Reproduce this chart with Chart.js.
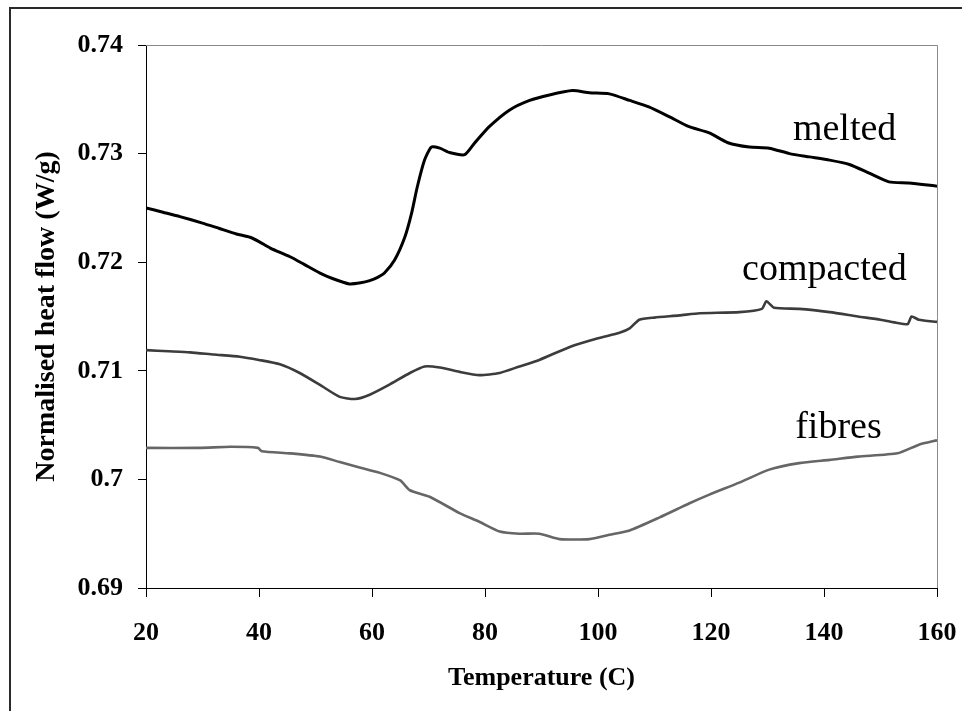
<!DOCTYPE html>
<html>
<head>
<meta charset="utf-8">
<script src="https://cdn.jsdelivr.net/npm/chart.js@4/dist/chart.umd.min.js"></script>
<style>
    html, body { margin: 0; padding: 0; background: #fff; }
    #wrap { width: 962px; height: 711px; }
</style>
</head>
<body>
<div id="wrap"><canvas id="chart" width="962" height="711"></canvas></div>
<script>
// Values
const meltedTemp = [20, 23, 26, 30, 33, 36, 38.4, 40, 42, 45.5, 48, 50.8, 53, 56, 58, 59.6, 61, 62.2, 64, 65.8,
    67, 68, 69.3, 70.5, 72, 73.7, 76.4, 78.2, 80.8, 84.3, 87.9, 91.4, 95.5, 98.5, 102, 105.6, 109, 112.6,
    116, 119.7, 123, 126.8, 130.3, 133.9, 137.4, 141, 144.5, 148, 151.5, 155, 160];
const meltedFlow = [0.7250, 0.7246, 0.7242, 0.7236, 0.7231, 0.7226, 0.7223, 0.7219, 0.7213, 0.7205, 0.7198,
    0.7190, 0.7185, 0.7180, 0.7181, 0.7183, 0.7186, 0.7190, 0.7202, 0.7223, 0.7245, 0.7269, 0.7294, 0.7306,
    0.7305, 0.7301, 0.7299, 0.7310, 0.7325, 0.7340, 0.7349, 0.7354, 0.7358, 0.7356, 0.7355, 0.7349, 0.7343,
    0.7334, 0.7325, 0.7319, 0.7310, 0.7306, 0.7305, 0.7300, 0.7297, 0.7294, 0.7290, 0.7282, 0.7274, 0.7273, 0.7270];

const compactedTemp = [20, 24, 27.8, 32, 36.6, 40, 43.7, 47.2, 50.8, 54.3, 57, 59.6, 63, 66.7, 69.3, 72, 75.5,
    79, 82.6, 86.1, 89.6, 95, 100, 103.8, 105.6, 107.3, 110, 114.4, 118, 125, 129, 129.8, 131.2, 135.6, 141,
    146, 150, 153, 154.8, 155.5, 156.8, 160];
const compactedFlow = [0.7119, 0.7118, 0.7117, 0.7115, 0.7113, 0.7110, 0.7106, 0.7098, 0.7087, 0.7076, 0.7074,
    0.7078, 0.7087, 0.7098, 0.7104, 0.7103, 0.7099, 0.7096, 0.7098, 0.7104, 0.7110, 0.7122, 0.7130, 0.7135,
    0.7139, 0.7147, 0.7149, 0.7151, 0.7153, 0.7154, 0.7157, 0.7164, 0.7158, 0.7157, 0.7154, 0.7150, 0.7147,
    0.7144, 0.7143, 0.7150, 0.7147, 0.7145];

const fibresTemp = [20, 29.5, 35, 39.8, 40.5, 45.5, 50.8, 54.3, 57.8, 61.4, 65, 66.7, 70.2, 75.5, 79, 82.6,
    86.1, 89.6, 93.2, 98.5, 102, 105.6, 110.9, 116.2, 119.7, 125, 130.3, 135.6, 141, 146, 153, 156.8, 160];
const fibresFlow = [0.7029, 0.7029, 0.7030, 0.7029, 0.7026, 0.7024, 0.7021, 0.7016, 0.7011, 0.7006, 0.6999,
    0.6990, 0.6984, 0.6969, 0.6961, 0.6952, 0.6950, 0.6950, 0.6945, 0.6945, 0.6949, 0.6953, 0.6965, 0.6978,
    0.6986, 0.6997, 0.7009, 0.7015, 0.7018, 0.7021, 0.7024, 0.7032, 0.7036];

const xTicks = [20, 40, 60, 80, 100, 120, 140, 160];
const yTicks = [0.69, 0.70, 0.71, 0.72, 0.73, 0.74];

const seriesNames = ['melted', 'compacted', 'fibres'];
// where each curve's name sits (temperature, heat flow at text baseline)
const labelAnchors = [[134.5, 0.73125], [125.5, 0.71836], [134.9, 0.70381]];

const SERIF = "'Liberation Serif', 'Times New Roman', serif";

function toPoints(xs, ys) {
    return xs.map((x, i) => ({ x: x, y: ys[i] }));
}

// frame, gray top/right plot edges and the curve names
const decorations = {
    id: 'decorations',
    afterDraw(chart) {
        const ctx = chart.ctx;
        const a = chart.chartArea;
        ctx.save();
        ctx.strokeStyle = '#2a2a2a';
        ctx.lineWidth = 2;
        ctx.beginPath();
        ctx.moveTo(10, 711);
        ctx.lineTo(10, 8);
        ctx.lineTo(962, 8);
        ctx.stroke();

        ctx.strokeStyle = '#8a8a8a';
        ctx.lineWidth = 1;
        ctx.beginPath();
        ctx.moveTo(a.left, a.top + 0.5);
        ctx.lineTo(a.right + 0.5, a.top + 0.5);
        ctx.lineTo(a.right + 0.5, a.bottom);
        ctx.stroke();

        ctx.fillStyle = '#000';
        ctx.font = '38px ' + SERIF;
        ctx.textAlign = 'left';
        ctx.textBaseline = 'alphabetic';
        const xs = chart.scales.x, ys = chart.scales.y;
        seriesNames.forEach((name, i) => {
            ctx.fillText(name, xs.getPixelForValue(labelAnchors[i][0]), ys.getPixelForValue(labelAnchors[i][1]));
        });
        ctx.restore();
    }
};

const ctx = document.getElementById('chart').getContext('2d');
new Chart(ctx, {
    type: 'line',
    data: {
        datasets: [
            { label: 'melted', data: toPoints(meltedTemp, meltedFlow), borderColor: '#000000', borderWidth: 3 },
            { label: 'compacted', data: toPoints(compactedTemp, compactedFlow), borderColor: '#3c3c3c', borderWidth: 2.6 },
            { label: 'fibres', data: toPoints(fibresTemp, fibresFlow), borderColor: '#666666', borderWidth: 2.6 }
        ]
    },
    options: {
        responsive: false,
        animation: false,
        layout: { padding: { left: 0, top: 45, right: 25, bottom: 0 } },
        elements: {
            point: { radius: 0 },
            line: { tension: 0.2, fill: false }
        },
        plugins: {
            legend: { display: false },
            tooltip: { enabled: false }
        },
        scales: {
            x: {
                type: 'linear',
                min: 20,
                max: 160,
                afterBuildTicks: (s) => { s.ticks = xTicks.map(v => ({ value: v })); },
                afterFit: (s) => { s.height = 123; s.paddingLeft = 0; s.paddingRight = 0; },
                grid: { drawOnChartArea: false, drawTicks: true, tickLength: 9, color: '#000' },
                border: { color: '#000', width: 1 },
                ticks: {
                    color: '#000',
                    padding: 21,
                    maxRotation: 0,
                    font: { family: SERIF, size: 26, weight: 'bold' }
                },
                title: {
                    display: true,
                    text: 'Temperature (C)',
                    color: '#000',
                    padding: { top: 0, bottom: 17 },
                    font: { family: SERIF, size: 26, weight: 'bold' }
                }
            },
            y: {
                type: 'linear',
                min: 0.69,
                max: 0.74,
                afterBuildTicks: (s) => { s.ticks = yTicks.map(v => ({ value: v })); },
                afterFit: (s) => { s.width = 146; s.paddingTop = 0; s.paddingBottom = 0; },
                grid: { drawOnChartArea: false, drawTicks: true, tickLength: 8, color: '#000' },
                border: { color: '#000', width: 1 },
                ticks: {
                    color: '#000',
                    padding: 15,
                    font: { family: SERIF, size: 26, weight: 'bold' },
                    callback: (v) => String(Number(v.toFixed(2)))
                },
                title: {
                    display: true,
                    text: 'Normalised heat flow (W/g)',
                    color: '#000',
                    padding: { top: 30, bottom: 0 },
                    font: { family: SERIF, size: 28, weight: 'bold' }
                }
            }
        }
    },
    plugins: [decorations]
});
</script>
</body>
</html>
